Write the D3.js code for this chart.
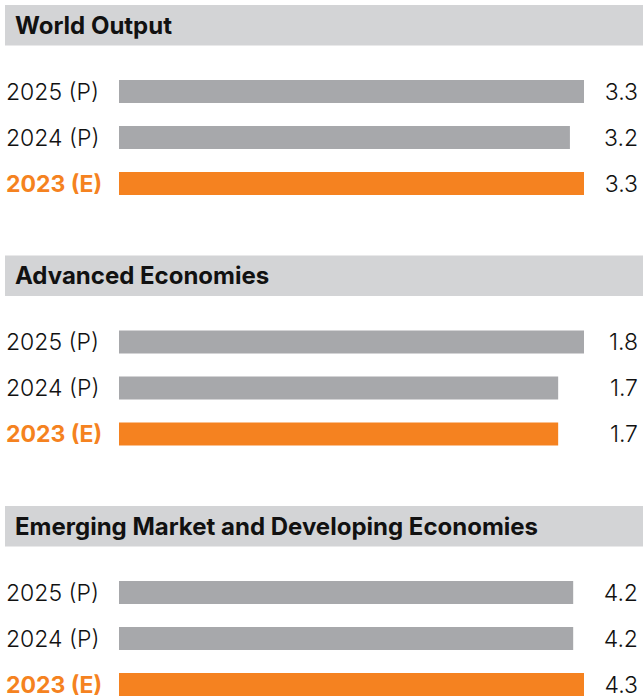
<!DOCTYPE html>
<html>
<head>
<meta charset="utf-8">
<script src="https://cdn.jsdelivr.net/npm/d3@7"></script>
<style>
  body { margin: 0; background: #fff; }
  svg text { font-family: Inter, "Noto Sans", sans-serif; }
</style>
</head>
<body>
<svg id="chart" width="643" height="700"></svg>
<script>
// data
var panels = ["World Output", "Advanced Economies", "Emerging Market and Developing Economies"];
var years = ["2025 (P)", "2024 (P)", "2023 (E)"];
var worldValues = [3.3, 3.2, 3.3];
var advancedValues = [1.8, 1.7, 1.7];
var emergingValues = [4.2, 4.2, 4.3];
var seriesValues = [worldValues, advancedValues, emergingValues];

var grey = "#a7a8ab";
var orange = "#f58220";
var headBg = "#d3d4d6";

var svg = d3.select("#chart");
var panelH = 250.5;
var barX = 119, barW = 465;

function drawPanel(i){
    var g = svg.append("g").attr("transform", "translate(0," + (i * panelH) + ")");
    var vals = seriesValues[i];

    g.append("rect")
        .attr("x", 5).attr("y", 5)
        .attr("width", 638).attr("height", 40.5)
        .attr("fill", headBg);
    g.append("text")
        .attr("x", 15).attr("y", 25.5)
        .attr("dy", "0.35em")
        .attr("font-size", 24)
        .attr("font-weight", 700)
        .attr("fill", "#111")
        .text(panels[i]);

    var x = d3.scaleLinear().domain([0, d3.max(vals)]).range([0, barW]);
    var y = d3.scaleBand().domain(years).range([80, 195]).paddingInner(0.5).paddingOuter(0);

    var rows = g.selectAll("g.row")
        .data(years.map(function(yr, j){ return {year: yr, value: vals[j]}; }))
        .enter().append("g").attr("class", "row");

    rows.append("rect")
        .attr("x", barX)
        .attr("y", function(d){ return y(d.year); })
        .attr("width", function(d){ return x(d.value); })
        .attr("height", y.bandwidth())
        .attr("fill", function(d){ return d.year.indexOf("(E)") > -1 ? orange : grey; });

    rows.append("text")
        .attr("x", 6)
        .attr("y", function(d){ return y(d.year) + y.bandwidth() / 2; })
        .attr("dy", "0.36em")
        .attr("font-size", 23)
        .attr("font-weight", function(d){ return d.year.indexOf("(E)") > -1 ? 700 : 300; })
        .attr("fill", function(d){ return d.year.indexOf("(E)") > -1 ? orange : "#111"; })
        .text(function(d){ return d.year; });

    rows.append("text")
        .attr("x", 638)
        .attr("y", function(d){ return y(d.year) + y.bandwidth() / 2; })
        .attr("dy", "0.36em")
        .attr("text-anchor", "end")
        .attr("font-size", 23)
        .attr("font-weight", 300)
        .attr("fill", "#111")
        .text(function(d){ return d3.format(".1f")(d.value); });
}

panels.forEach(function(p, i){ drawPanel(i); });
</script>
</body>
</html>
